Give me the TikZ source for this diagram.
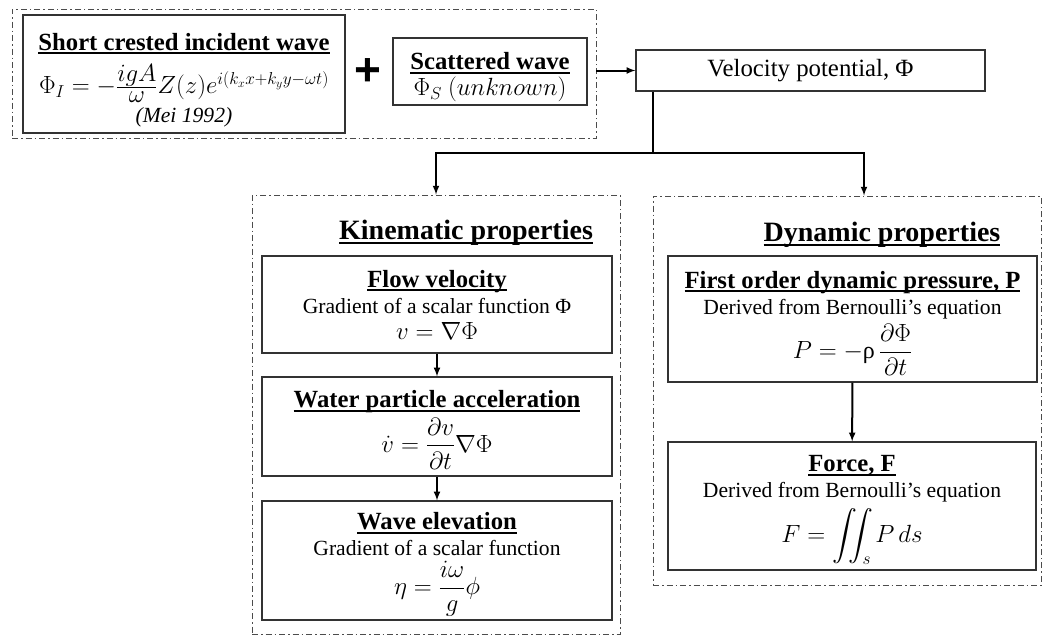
\documentclass[tikz,border=0pt]{standalone}
\usepackage{amsmath}
\usepackage{fontspec}
\setmainfont{Liberation Serif}
\newfontfamily\plusfont{Liberation Sans}
\usetikzlibrary{arrows,calc}
\tikzset{
    block/.style = {draw=black!80, line width=1.2pt, rectangle,
        align=center, inner sep=2pt,
        font=\fontsize{21.6}{26}\selectfont},
    group/.style = {draw=black!70, line width=0.9pt, rectangle,
        dash pattern=on 6pt off 3pt on 1.5pt off 3pt},
    arrow/.style = {draw, -latex, line width=2pt},
    title/.style = {font=\fontsize{28}{32}\selectfont}
}
\newcommand{\hd}[1]{{\bfseries\setbox0=\hbox{#1}\rlap{\rule[-4pt]{\wd0}{2pt}}\box0}}
\newcommand{\bhd}[1]{{\fontsize{24.7}{26}\selectfont\hd{#1}}}
\newcommand{\eqn}[1]{{\fontsize{24}{26}\selectfont$#1$}}
\newcommand{\up}[1]{\rule{0pt}{#1}}

\begin{document}
\begin{tikzpicture}[x=1pt, y=-1pt]
    \useasboundingbox (0,0) rectangle (1043,635);
    \node[group, minimum width=584pt, minimum height=129pt] (inc) at (304,73.5) {};
    \node[block, minimum width=322pt, minimum height=118pt] (short) at (184,74)
        {\up{30pt}\bhd{Short crested incident wave}\\[9pt]
         \eqn{\Phi_I = -\frac{\displaystyle igA}{\displaystyle\omega}Z(z)e^{i(k_xx+k_yy-\omega t)}}\\[3pt]
         \textit{(Mei 1992)}};
    \node[font=\fontsize{46}{46}\selectfont\plusfont\bfseries] (plus) at (368,72) {+};
    \node[block, minimum width=194pt, minimum height=67pt] (scat) at (490,71.5)
        {\up{29pt}\bhd{Scattered wave}\\ \eqn{\Phi_S\ (unknown)}};
    \node[block, minimum width=349pt, minimum height=41pt, font=\fontsize{24.8}{28}\selectfont] (vel) at (810.5,70.5)
        {Velocity potential, Φ};
    \draw[arrow] (inc.east |- vel) -- (vel);

    \node[group, minimum width=368pt, minimum height=439pt] (kin) at (436,414.5) {};
    \node[title] (kintitle) at (466,233) {\hd{Kinematic properties}};
    \node[block, minimum width=350pt, minimum height=97pt] (flow) at (437,304.5)
        {\bhd{Flow velocity}\\ Gradient of a scalar function Φ\\ \eqn{v = \nabla\Phi}};
    \node[block, minimum width=350pt, minimum height=99pt] (accel) at (437,426.5)
        {\up{24pt}\bhd{Water particle acceleration}\\[4pt] \eqn{\dot{v} = \dfrac{\partial v}{\partial t}\nabla\Phi}};
    \node[block, minimum width=350pt, minimum height=119pt] (elev) at (437,560.5)
        {\up{25pt}\bhd{Wave elevation}\\ Gradient of a scalar function\\[4pt] \eqn{\eta = \dfrac{i\omega}{g}\phi}};
    \draw[arrow] (flow) -- (accel);
    \draw[arrow] (accel) -- (elev);

    \node[group, minimum width=388pt, minimum height=389pt] (dyn) at (847,390.5) {};
    \node[title] (dyntitle) at (882,235) {\hd{Dynamic properties}};
    \node[block, minimum width=369pt, minimum height=126pt] (pres) at (852.5,319)
        {\up{26pt}\bhd{First order dynamic pressure, P}\\ Derived from Bernoulli’s equation\\[5pt]
         \eqn{P = -\text{ρ}\,\dfrac{\partial\Phi}{\partial t}}};
    \node[block, minimum width=368pt, minimum height=128pt] (force) at (852,506)
        {\up{24pt}\bhd{Force, F}\\ Derived from Bernoulli’s equation\\[5pt] \eqn{F = \displaystyle\iint_s P\,ds}};
    \draw[arrow] (pres) -- (force);

    \coordinate (split) at (653,153);
    \draw[line width=2pt] (vel.south -| split) -- (split);
    \draw[arrow] (split) -| (kin.north);
    \draw[arrow] (split) -| ([xshift=17pt]dyn.north);
\end{tikzpicture}
\end{document}
